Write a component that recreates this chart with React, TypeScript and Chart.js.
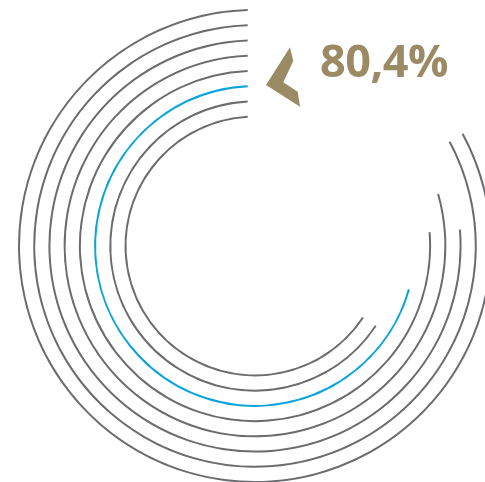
import React, { useEffect, useRef } from "react";
import { Chart, registerables } from "chart.js";

Chart.register(...registerables);

// Share of a full circle covered by each ring (outermost first), in %
const ringLabels = ["Ring 1", "Ring 2", "Ring 3", "Ring 4", "Ring 5", "Ring 6", "Ring 7", "Ring 8"];
const ringValues = [82.4, 82.3, 75.7, 78.8, 75.6, 69.9, 64.9, 64.8];
const highlightIndex = 5;
const headline = "80,4%";

// styling
const ringStartDeg = [-1.77, -1.9, -2.04, -2.2, -2.4, -2.62, -2.91, -3.23];
const GRAY = "#6a6c6e";
const BLUE = "#0aa3dc";
const TAN = "#9b8b65";
const LINE_W = 2;
const GAP_W = 13.23;
const CUTOUT_PX = 128.5;
const CANVAS_LEFT = 18;
const CANVAS_TOP = 9;
const SIZE = 474;

const arrowPlugin = {
  id: "arrowMark",
  afterDraw(chart: any) {
    const ctx = chart.ctx;
    const pts = [
      [290, 47.3],
      [293.3, 61],
      [283.3, 82.3],
      [297.7, 91.7],
      [300, 106.7],
      [266, 85],
    ];
    ctx.save();
    ctx.fillStyle = TAN;
    ctx.beginPath();
    pts.forEach(([x, y], i) => {
      const cx = x - CANVAS_LEFT;
      const cy = y - CANVAS_TOP;
      if (i === 0) ctx.moveTo(cx, cy);
      else ctx.lineTo(cx, cy);
    });
    ctx.closePath();
    ctx.fill();
    ctx.restore();
  },
};

export default function App() {
  const ref = useRef<HTMLCanvasElement | null>(null);

  useEffect(() => {
    if (!ref.current) return;
    const datasets: any[] = [];
    ringValues.forEach((v, i) => {
      if (i > 0) {
        datasets.push({
          label: "spacer",
          data: [1],
          weight: GAP_W,
          backgroundColor: ["rgba(0,0,0,0)"],
          borderWidth: 0,
        });
      }
      datasets.push({
        label: ringLabels[i],
        data: [100 - v, v],
        weight: LINE_W,
        rotation: ringStartDeg[i],
        backgroundColor: ["rgba(0,0,0,0)", i === highlightIndex ? BLUE : GRAY],
        borderWidth: 0,
      });
    });
    const chart = new Chart(ref.current, {
      type: "doughnut",
      data: { labels: ["rest", "value"], datasets },
      options: {
        animation: false,
        responsive: false,
        events: [],
        cutout: CUTOUT_PX,
        layout: { padding: 0 },
        plugins: {
          legend: { display: false },
          tooltip: { enabled: false },
          title: { display: false },
        },
      },
      plugins: [arrowPlugin],
    });
    return () => chart.destroy();
  }, []);

  return (
    <div style={{ position: "absolute", left: 0, top: 0, width: 485, height: 482, background: "#fff", overflow: "hidden" }}>
      <canvas
        ref={ref}
        width={SIZE}
        height={SIZE}
        style={{ position: "absolute", left: CANVAS_LEFT, top: CANVAS_TOP, width: SIZE, height: SIZE }}
      />
      <div
        style={{
          position: "absolute",
          left: 320,
          top: 37,
          fontFamily: "'Open Sans', Lato, sans-serif",
          fontWeight: 700,
          fontSize: 45,
          lineHeight: "45px",
          letterSpacing: "-0.5px",
          color: TAN,
          whiteSpace: "nowrap",
        }}
      >
        {headline}
      </div>
    </div>
  );
}
